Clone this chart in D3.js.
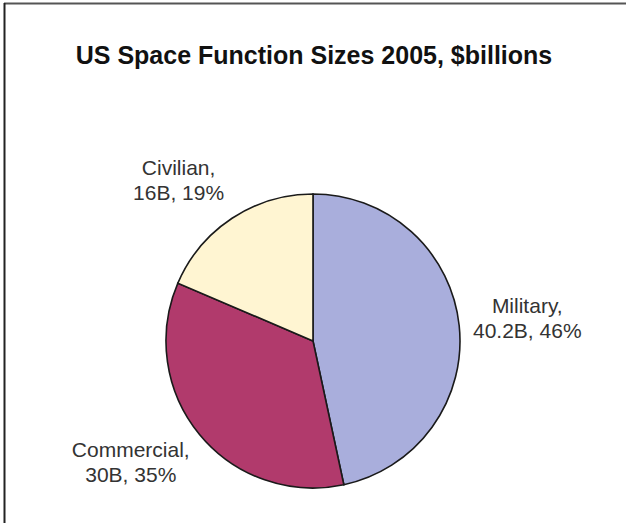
<!DOCTYPE html>
<html>
<head>
<meta charset="utf-8">
<script src="https://cdn.jsdelivr.net/npm/d3@7"></script>
<style>
  body { margin: 0; background: #fff; }
  text { font-family: "Liberation Sans", Arial, sans-serif; }
</style>
</head>
<body>
<div id="chart-area"></div>
<script>
// data
var categories = ["Military", "Commercial", "Civilian"];
var values = [40.2, 30, 16];
var labelLines = [
  ["Military,", "40.2B, 46%"],
  ["Commercial,", "30B, 35%"],
  ["Civilian,", "16B, 19%"]
];
var colors = ["#a9aedc", "#b13a6c", "#fff5d2"];

var width = 626, height = 523;
var cx = 313, cy = 341, radius = 147;

var svg = d3.select("#chart-area").append("svg")
  .attr("width", width)
  .attr("height", height);

// frame (top and left edge only)
svg.append("line")
  .attr("x1", 4).attr("y1", 3.5).attr("x2", width).attr("y2", 3.5)
  .attr("stroke", "#555").attr("stroke-width", 2);
svg.append("line")
  .attr("x1", 4.5).attr("y1", 3).attr("x2", 4.5).attr("y2", height)
  .attr("stroke", "#222").attr("stroke-width", 2);

// title
svg.append("text")
  .attr("x", 314)
  .attr("y", 64)
  .attr("text-anchor", "middle")
  .style("font-size", "25px")
  .style("font-weight", "bold")
  .attr("fill", "#111")
  .text("US Space Function Sizes 2005, $billions");

var pie = d3.pie().sort(null)(values);
var arc = d3.arc().innerRadius(0).outerRadius(radius);

var g = svg.append("g")
  .attr("transform", "translate(" + cx + "," + cy + ")");

g.selectAll("path")
  .data(pie)
  .enter().append("path")
  .attr("d", arc)
  .attr("fill", function (d, i) { return colors[i]; })
  .attr("stroke", "#1a1a1a")
  .attr("stroke-width", 1.6);

// label positions, outside the pie on each slice's middle angle
var labelArc = d3.arc().innerRadius(radius * 1.5).outerRadius(radius * 1.5);
var labelOffset = [[-5, -5], [-12, -24], [-13, 18]];

var labels = svg.append("g")
  .attr("transform", "translate(" + cx + "," + cy + ")");

labels.selectAll("text")
  .data(pie)
  .enter().append("text")
  .attr("text-anchor", "middle")
  .attr("fill", "#333")
  .style("font-size", "21px")
  .attr("transform", function (d, i) {
    var c = labelArc.centroid(d);
    return "translate(" + (c[0] + labelOffset[i][0]) + "," + (c[1] + labelOffset[i][1]) + ")";
  })
  .each(function (d, i) {
    var t = d3.select(this);
    labelLines[i].forEach(function (line, k) {
      t.append("tspan")
        .attr("x", 0)
        .attr("dy", k === 0 ? 0 : 25)
        .text(line);
    });
  });
</script>
</body>
</html>
